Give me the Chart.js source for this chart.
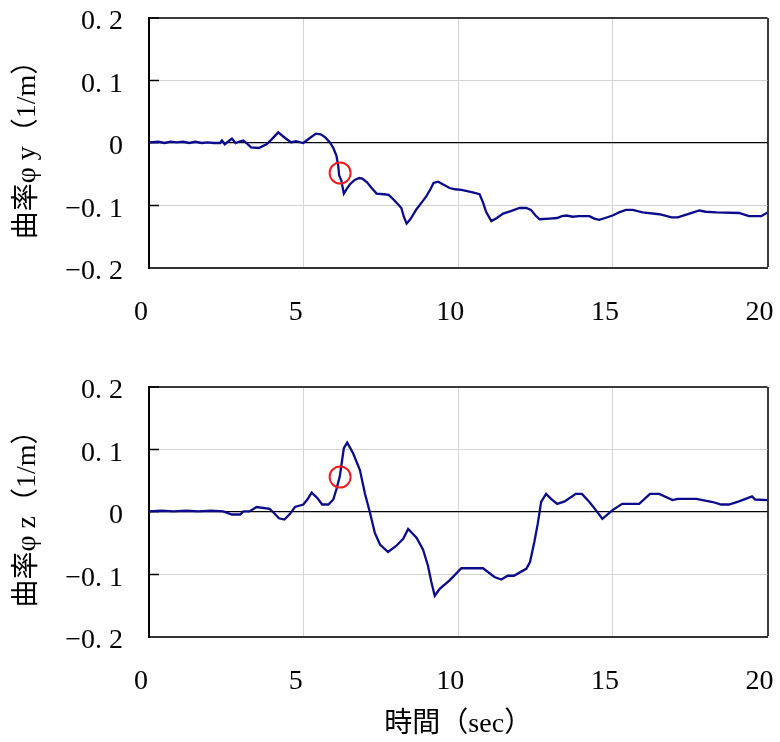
<!DOCTYPE html>
<html>
<head>
<meta charset="utf-8">
<script src="https://cdn.jsdelivr.net/npm/chart.js@4/dist/chart.umd.min.js"></script>
<style>
  html, body { margin: 0; padding: 0; background: #fff; }
  #wrap { position: relative; width: 780px; height: 742px; }
  .panel { position: absolute; left: 0; }
</style>
</head>
<body>
<div id="wrap">
  <div class="panel" style="top:0px"><canvas id="cy" width="780" height="340"></canvas></div>
  <div class="panel" style="top:370px"><canvas id="cz" width="780" height="372"></canvas></div>
</div>
<script>
// Curvature about the y axis (1/m) against time (sec)
const timeY = [0, 0.3, 0.5, 0.7, 0.9, 1.1, 1.3, 1.5, 1.7, 1.9, 2.1, 2.3, 2.36, 2.45, 2.55, 2.68, 2.8, 2.9, 3.05, 3.15,
  3.3, 3.55, 3.8, 3.95, 4.18, 4.4, 4.6, 4.75, 4.99, 5.2, 5.4, 5.55, 5.7, 5.85, 5.96, 6.06, 6.12, 6.15, 6.22, 6.3,
  6.4, 6.5, 6.65, 6.8, 6.9, 7.05, 7.2, 7.36, 7.6, 7.75, 7.9, 8.05, 8.16, 8.24, 8.33, 8.45, 8.65, 8.85, 8.97, 9.1,
  9.2, 9.35, 9.5, 9.72, 9.9, 10.1, 10.47, 10.69, 10.8, 10.9, 11.07, 11.25, 11.45, 11.7, 11.98, 12.2, 12.35, 12.5, 12.63, 12.95,
  13.2, 13.35, 13.5, 13.7, 13.9, 14.24, 14.4, 14.56, 14.75, 14.99, 15.2, 15.42, 15.64, 15.96, 16.5, 16.9, 17.1, 17.35, 17.6, 17.8,
  18.0, 18.35, 19.08, 19.4, 19.8, 20];
const phiY = [0.001, 0.002, 0.0, 0.002, 0.001, 0.002, 0.0, 0.002, 0.0, 0.001, 0.0, 0.0, 0.004, -0.002, 0.002, 0.007, 0.0, 0.002, 0.004, 0.0,
  -0.007, -0.008, -0.002, 0.005, 0.017, 0.008, 0.001, 0.003, 0.0, 0.008, 0.015, 0.014, 0.009, 0.001, -0.008, -0.02, -0.037, -0.052, -0.06, -0.081,
  -0.073, -0.066, -0.059, -0.056, -0.057, -0.063, -0.072, -0.081, -0.082, -0.083, -0.09, -0.098, -0.104, -0.118, -0.129, -0.122, -0.106, -0.093, -0.085, -0.074,
  -0.064, -0.062, -0.066, -0.072, -0.074, -0.075, -0.079, -0.082, -0.095, -0.11, -0.125, -0.12, -0.113, -0.109, -0.104, -0.104, -0.107, -0.116, -0.122, -0.121,
  -0.12, -0.117, -0.116, -0.118, -0.117, -0.117, -0.121, -0.123, -0.12, -0.116, -0.111, -0.107, -0.107, -0.111, -0.114, -0.119, -0.119, -0.115, -0.111, -0.108,
  -0.11, -0.111, -0.112, -0.117, -0.117, -0.111];

// Curvature about the z axis (1/m) against time (sec)
const timeZ = [0, 0.4, 0.8, 1.2, 1.6, 2.0, 2.4, 2.68, 2.95, 3.05, 3.25, 3.48, 3.9, 4.05, 4.2, 4.38, 4.56, 4.72, 4.99, 5.12,
  5.26, 5.45, 5.6, 5.8, 5.96, 6.07, 6.17, 6.23, 6.3, 6.41, 6.6, 6.82, 6.98, 7.14, 7.3, 7.47, 7.73, 8.0, 8.22, 8.38,
  8.65, 8.86, 9.02, 9.13, 9.24, 9.4, 9.73, 10.1, 10.8, 11.17, 11.39, 11.6, 11.8, 12.05, 12.2, 12.32, 12.46, 12.57, 12.68, 12.84,
  13.0, 13.2, 13.44, 13.8, 14.0, 14.24, 14.45, 14.66, 14.99, 15.3, 15.85, 16.2, 16.5, 16.93, 17.1, 17.7, 18.23, 18.5, 18.75, 19.08,
  19.5, 19.6, 20];
const phiZ = [0.001, 0.002, 0.001, 0.002, 0.001, 0.002, 0.001, -0.004, -0.004, 0.001, 0.001, 0.008, 0.005, -0.002, -0.01, -0.012, -0.003, 0.008, 0.012, 0.02,
  0.031, 0.022, 0.012, 0.012, 0.02, 0.038, 0.057, 0.078, 0.102, 0.111, 0.094, 0.067, 0.03, 0.0, -0.033, -0.052, -0.064, -0.054, -0.043, -0.027,
  -0.041, -0.06, -0.086, -0.112, -0.134, -0.123, -0.109, -0.09, -0.09, -0.104, -0.108, -0.102, -0.102, -0.095, -0.091, -0.08, -0.048, -0.019, 0.016, 0.029,
  0.021, 0.013, 0.017, 0.029, 0.029, 0.016, 0.003, -0.011, 0.003, 0.013, 0.013, 0.029, 0.029, 0.019, 0.021, 0.021, 0.016, 0.012, 0.012, 0.017,
  0.025, 0.02, 0.019];

// Highlighted instant on each curve
const markTime = 6.18;
const markY = -0.048;
const markZ = 0.056;

// Axis ticks and labels
const xTickValues = [0, 5, 10, 15, 20];
const yTickValues = [-0.2, -0.1, 0, 0.1, 0.2];
const yTickText = ['\u22120. 2', '\u22120. 1', '0', '0. 1', '0. 2'];
const titleY = '曲率φ y（1/m）';
const titleZ = '曲率φ z（1/m）';
const titleX = '時間（sec）';

const SERIF = "'Liberation Serif', 'DejaVu Serif', 'Noto Sans CJK JP', serif";
const LINE_COLOR = '#0b0b8c';
const MARK_COLOR = '#ee1c1c';

Chart.defaults.color = '#000';
Chart.defaults.font.family = SERIF;

function toPoints(ts, vs) {
  return ts.map((t, i) => ({ x: t, y: vs[i] }));
}

function yLabel(v) {
  const i = yTickValues.findIndex(t => Math.abs(t - v) < 1e-9);
  return i >= 0 ? yTickText[i] : '';
}

function makeChart(id, ts, vs, mark, yTitle, showXTitle, topPad, xAxisHeight) {
  return new Chart(document.getElementById(id), {
    type: 'line',
    data: {
      datasets: [
        {
          data: [{ x: markTime, y: mark }],
          showLine: false,
          pointRadius: 10.5,
          pointHoverRadius: 10.5,
          pointBorderWidth: 2,
          pointBorderColor: MARK_COLOR,
          pointBackgroundColor: 'rgba(0,0,0,0)'
        },
        {
          data: toPoints(ts, vs),
          borderColor: LINE_COLOR,
          borderWidth: 2.3,
          pointRadius: 0,
          tension: 0,
          fill: false
        }
      ]
    },
    options: {
      responsive: false,
      animation: false,
      devicePixelRatio: 1,
      events: [],
      layout: { padding: { top: topPad, right: 10, left: 0, bottom: 0 } },
      plugins: { legend: { display: false }, tooltip: { enabled: false } },
      scales: {
        x: {
          type: 'linear',
          min: 0,
          max: 20,
          afterBuildTicks: s => { s.ticks = xTickValues.map(v => ({ value: v })); },
          afterFit: s => { s.height = xAxisHeight; s.paddingLeft = 0; s.paddingRight = 0; },
          ticks: {
            font: { size: 28, family: SERIF, lineHeight: 1 },
            padding: 31,
            labelOffset: -8,
            maxRotation: 0,
            autoSkip: false,
            color: '#000'
          },
          grid: {
            drawTicks: false,
            tickLength: 0,
            color: c => (c.tick && c.tick.value === 20) ? '#3a3a3a' : '#d4d4d4',
            lineWidth: c => (c.tick && c.tick.value === 20) ? 2 : 1
          },
          border: { display: true, color: '#333', width: 2 },
          title: {
            display: showXTitle,
            text: titleX,
            font: { size: 28, family: SERIF, lineHeight: 1.2 },
            padding: { top: 0, bottom: 1 },
            color: '#000'
          }
        },
        y: {
          min: -0.2,
          max: 0.2,
          afterBuildTicks: s => { s.ticks = yTickValues.map(v => ({ value: v })); },
          afterFit: s => { s.width = 149; s.paddingTop = 0; s.paddingBottom = 0; },
          ticks: {
            font: { size: 28, family: SERIF, lineHeight: 1 },
            padding: 36,
            labelOffset: 4,
            callback: v => yLabel(v),
            color: '#000'
          },
          grid: {
            drawTicks: true,
            tickLength: -10,
            tickColor: '#000',
            tickWidth: 1.5,
            color: c => {
              const v = c.tick ? c.tick.value : null;
              if (v === 0) return '#000';
              if (v === 0.2 || v === -0.2) return '#3a3a3a';
              return '#d4d4d4';
            },
            lineWidth: c => {
              const v = c.tick ? c.tick.value : null;
              if (v === 0) return 1.2;
              if (v === 0.2 || v === -0.2) return 2;
              return 1;
            }
          },
          border: { display: true, color: '#000', width: 2 },
          title: {
            display: true,
            text: yTitle,
            font: { size: 28, family: SERIF, lineHeight: 1.2 },
            padding: { top: 11, bottom: 0 },
            color: '#000'
          }
        }
      }
    }
  });
}

makeChart('cy', timeY, phiY, markY, titleY, false, 18, 72);
makeChart('cz', timeZ, phiZ, markZ, titleZ, true, 17, 105);
</script>
</body>
</html>
